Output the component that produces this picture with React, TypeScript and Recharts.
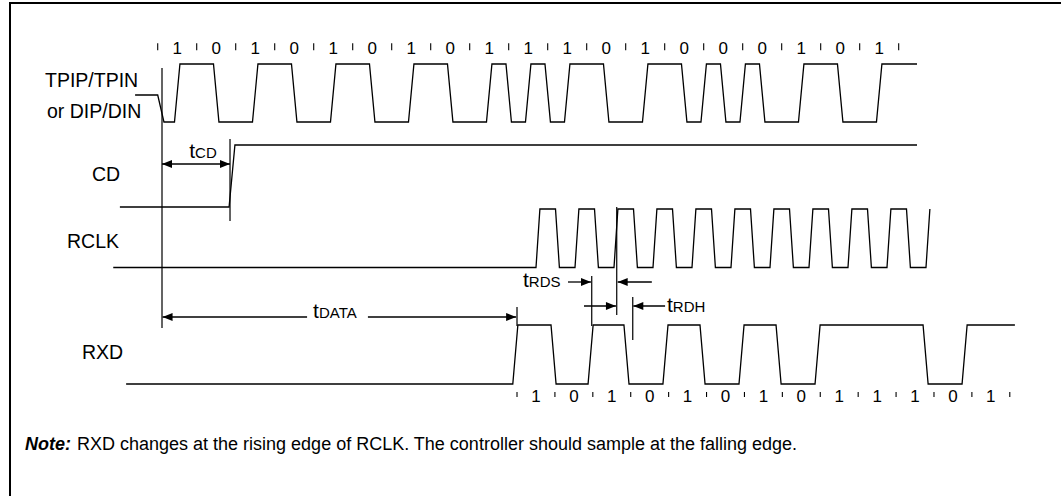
import React from 'react';
import { ComposedChart, Line, Scatter, XAxis, YAxis, ReferenceLine } from 'recharts';

// ---------- data (time in ns, 1 Manchester bit = 100 ns) ----------
const TPIP_BITS = [1, 0, 1, 0, 1, 0, 1, 0, 1, 1, 1, 0, 1, 0, 0, 0, 1, 0, 1];
const TPIP_BIT_NS = 100;
const TPIP_IDLE_START = -58;
const TPIP_IDLE_END = 0;
const TPIP_IDLE_FALL_END = 16;
const TPIP_END = 1947;

const CD_START = -97;
const CD_RISE = 190.5;
const CD_END = 1947;

const RCLK_START = -114;
const RCLK_FIRST_RISE = 975;
const RCLK_PERIOD = 100;
const RCLK_HIGH_NS = 50;
const RCLK_CYCLES = 11;

const RXD_START = -81;
const RXD_EDGES = [917, 1015, 1110, 1202, 1302, 1397, 1497, 1592, 1692, 1969, 2069];
const RXD_END = 2198;
const RXD_BITS = [1, 0, 1, 0, 1, 0, 1, 0, 1, 1, 1, 0, 1];
const RXD_BIT_START = 921.3;
const RXD_BIT_NS = 97.2;

// timing markers (x in ns)
const MARKER_TIMES = [11, 185.4, 921.3, 1112.8, 1176.9, 1218];
const DIM_FROM = [11, 383, 539, 1052, 1267, 1093, 1301];
const DIM_TO = [185.4, 12.5, 919, 1111, 1179.5, 1175, 1219.5];
const TIMING_NAMES = ['CD', 'DATA', 'RDS', 'RDH'];
const TIMING_TIMES = [80.8, 398.5, 936.7, 1305.9];

const SIGNAL_NAMES = ['TPIP/TPIN', 'or DIP/DIN', 'CD', 'RCLK', 'RXD'];
const SIGNAL_NAME_TIMES = [-289, -284, -168.5, -232.6, -194.1];

const NOTE_HEAD = 'Note:';
const NOTE_TEXT = 'RXD changes at the rising edge of RCLK. The controller should sample at the falling edge.';

// ---------- layout ----------
const W = 1061;
const H = 496;
const X_DOMAIN: [number, number] = [-404.4, 2316.2];
const FONT = '"Liberation Sans", Arial, Helvetica, sans-serif';
const LV = {
  tpHigh: 64, tpLow: 122, tpIdle: 95,
  cdHigh: 145, cdLow: 207,
  rcHigh: 209, rcLow: 267.5,
  rxHigh: 325, rxLow: 384,
  topTick: 46.7, topText: 53.5,
  botTick: 394.5, botText: 402,
};
const MARKER_Y = [[68, 328], [139, 221], [307, 326], [276, 326], [207, 315], [297, 340]];
const DIM_Y = [164, 317, 317, 282, 282, 306, 306];
const DIM_BOTH = [true, false, false, false, false, false, false];
const TIMING_Y = [158, 318, 287, 312];
const SIGNAL_NAME_Y = [87, 118, 181, 248, 359];
const TP_EDGE = 14, CD_EDGE = 15, RC_EDGE = 10, RX_EDGE = 13;

// ---------- build waveforms ----------
type P = { x: number; y: number };
function manchester(): P[] {
  const pts: P[] = [
    { x: TPIP_IDLE_START, y: LV.tpIdle },
    { x: TPIP_IDLE_END, y: LV.tpIdle },
    { x: TPIP_IDLE_FALL_END, y: LV.tpLow },
  ];
  let level = LV.tpLow;
  TPIP_BITS.forEach((b, i) => {
    const start = i * TPIP_BIT_NS;
    const center = start + TPIP_BIT_NS / 2;
    const pre = b ? LV.tpLow : LV.tpHigh;
    const post = b ? LV.tpHigh : LV.tpLow;
    if (level !== pre) {
      pts.push({ x: start - TP_EDGE / 2, y: level }, { x: start + TP_EDGE / 2, y: pre });
      level = pre;
    }
    pts.push({ x: center - TP_EDGE / 2, y: level }, { x: center + TP_EDGE / 2, y: post });
    level = post;
  });
  pts.push({ x: TPIP_END, y: level });
  return pts;
}
const tpipData = manchester();
const cdData: P[] = [
  { x: CD_START, y: LV.cdLow },
  { x: CD_RISE - CD_EDGE / 2, y: LV.cdLow },
  { x: CD_RISE + CD_EDGE / 2, y: LV.cdHigh },
  { x: CD_END, y: LV.cdHigh },
];
const rclkData: P[] = (() => {
  const pts: P[] = [{ x: RCLK_START, y: LV.rcLow }];
  for (let k = 0; k < RCLK_CYCLES; k++) {
    const r = RCLK_FIRST_RISE + k * RCLK_PERIOD;
    pts.push({ x: r - RC_EDGE / 2, y: LV.rcLow }, { x: r + RC_EDGE / 2, y: LV.rcHigh });
    if (k < RCLK_CYCLES - 1) {
      const f = r + RCLK_HIGH_NS;
      pts.push({ x: f - RC_EDGE / 2, y: LV.rcHigh }, { x: f + RC_EDGE / 2, y: LV.rcLow });
    }
  }
  return pts;
})();
const rxdData: P[] = (() => {
  const pts: P[] = [{ x: RXD_START, y: LV.rxLow }];
  let level = LV.rxLow;
  RXD_EDGES.forEach((e) => {
    const next = level === LV.rxLow ? LV.rxHigh : LV.rxLow;
    pts.push({ x: e - RX_EDGE / 2, y: level }, { x: e + RX_EDGE / 2, y: next });
    level = next;
  });
  pts.push({ x: RXD_END, y: level });
  return pts;
})();

const topTicks = Array.from({ length: TPIP_BITS.length + 1 }, (_, i) => ({ x: i * TPIP_BIT_NS, y: LV.topTick }));
const topLabels = TPIP_BITS.map((b, i) => ({ x: i * TPIP_BIT_NS + TPIP_BIT_NS / 2, y: LV.topText, t: String(b) }));
const botTicks = Array.from({ length: RXD_BITS.length + 1 }, (_, i) => ({ x: RXD_BIT_START + i * RXD_BIT_NS, y: LV.botTick }));
const botLabels = RXD_BITS.map((b, i) => ({ x: RXD_BIT_START + (i + 0.5) * RXD_BIT_NS, y: LV.botText, t: String(b) }));
const signalLabels = SIGNAL_NAMES.map((t, i) => ({ x: SIGNAL_NAME_TIMES[i], y: SIGNAL_NAME_Y[i], t }));
const timingLabels = TIMING_NAMES.map((t, i) => ({ x: TIMING_TIMES[i], y: TIMING_Y[i], t }));
const noteData = [{ x: -340.3, y: 450, t: NOTE_TEXT }];

// ---------- shapes ----------
const tickShape = (len: number) => (p: any) => (
  <line x1={p.cx} x2={p.cx} y1={p.cy - len / 2} y2={p.cy + len / 2} stroke="#000" strokeWidth={1.1} />
);
const digitShape = (p: any) => (
  <text x={p.cx} y={p.cy} textAnchor="middle" fontFamily={FONT} fontSize={17} fill="#000">{p.payload.t}</text>
);
const nameShape = (p: any) => (
  <text x={p.cx} y={p.cy} fontFamily={FONT} fontSize={19.5} fill="#000">{p.payload.t}</text>
);
const timingShape = (p: any) => (
  <text x={p.cx} y={p.cy} fontFamily={FONT} fill="#000">
    <tspan fontSize={21}>t</tspan>
    <tspan fontSize={15}>{p.payload.t}</tspan>
  </text>
);
const noteShape = (p: any) => (
  <text x={p.cx} y={p.cy} fontFamily={FONT} fontSize={18} fill="#000">
    <tspan fontWeight="bold" fontStyle="italic">{NOTE_HEAD}</tspan>
    <tspan dx={6}>{p.payload.t}</tspan>
  </text>
);
const arrowShape = (both: boolean) => (p: any) => {
  const { x1, y1, x2, y2 } = p;
  const dx = x2 - x1, dy = y2 - y1;
  const len = Math.hypot(dx, dy) || 1;
  const ux = dx / len, uy = dy / len;
  const L = 10, HW = 4;
  const head = (tx: number, ty: number, vx: number, vy: number) =>
    `${tx},${ty} ${tx - vx * L - vy * HW},${ty - vy * L + vx * HW} ${tx - vx * L + vy * HW},${ty - vy * L - vx * HW}`;
  return (
    <g>
      <line x1={x1} y1={y1} x2={x2} y2={y2} stroke="#000" strokeWidth={1.3} />
      <polygon points={head(x2, y2, ux, uy)} fill="#000" />
      {both && <polygon points={head(x1, y1, -ux, -uy)} fill="#000" />}
    </g>
  );
};

const waveProps = { type: 'linear' as const, dataKey: 'y', stroke: '#000', strokeWidth: 1.3, dot: false, activeDot: false, isAnimationActive: false };

export default function App() {
  return (
    <div style={{ position: 'relative', width: W, height: H, overflow: 'hidden', background: '#fff' }}>
      <style>{`body{margin:0;background:#fff}`}</style>
      <div style={{ position: 'absolute', left: 9, top: 2, width: W, height: H, borderTop: '2px solid #000', borderLeft: '2px solid #000' }} />
      <div style={{ position: 'absolute', left: 0, top: 0 }}>
        <ComposedChart width={W} height={H} margin={{ top: 0, right: 0, bottom: 0, left: 0 }}>
          <XAxis type="number" dataKey="x" domain={X_DOMAIN} allowDataOverflow hide />
          <YAxis type="number" dataKey="y" domain={[0, H]} reversed allowDataOverflow hide />
          {MARKER_TIMES.map((t, i) => (
            <ReferenceLine key={'m' + i} segment={[{ x: t, y: MARKER_Y[i][0] }, { x: t, y: MARKER_Y[i][1] }]} stroke="#222" strokeWidth={1.4} ifOverflow="visible" />
          ))}
          {DIM_FROM.map((f, i) => (
            <ReferenceLine key={'d' + i} segment={[{ x: f, y: DIM_Y[i] }, { x: DIM_TO[i], y: DIM_Y[i] }]} ifOverflow="visible" shape={arrowShape(DIM_BOTH[i])} />
          ))}
          <Line {...waveProps} data={tpipData} name="TPIP/TPIN" />
          <Line {...waveProps} data={cdData} name="CD" />
          <Line {...waveProps} data={rclkData} name="RCLK" />
          <Line {...waveProps} data={rxdData} name="RXD" />
          <Scatter data={topTicks} shape={tickShape(7)} isAnimationActive={false} />
          <Scatter data={botTicks} shape={tickShape(5)} isAnimationActive={false} />
          <Scatter data={topLabels} shape={digitShape} isAnimationActive={false} />
          <Scatter data={botLabels} shape={digitShape} isAnimationActive={false} />
          <Scatter data={signalLabels} shape={nameShape} isAnimationActive={false} />
          <Scatter data={timingLabels} shape={timingShape} isAnimationActive={false} />
          <Scatter data={noteData} shape={noteShape} isAnimationActive={false} />
        </ComposedChart>
      </div>
    </div>
  );
}
